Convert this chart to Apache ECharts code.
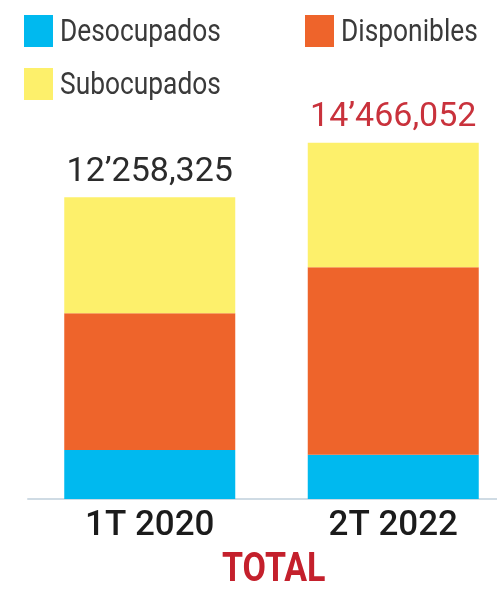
<!DOCTYPE html>
<html>
<head>
<meta charset="utf-8">
<title>Desocupados, disponibles y subocupados</title>
<script src="https://cdn.jsdelivr.net/npm/echarts@6/dist/echarts.min.js"></script>
<style>
  html, body { margin: 0; padding: 0; background: #fff; }
  #chart { width: 497px; height: 591px; }
</style>
</head>
<body>
<div id="chart"></div>
<script>
// datos
var categories = ['1T 2020', '2T 2022']
var seriesNames = ['Desocupados', 'Disponibles', 'Subocupados']
var desocupados = [1990000, 1800000]
var disponibles = [5550000, 7610000]
var subocupados = [4718325, 5056052]
var totals = [12258325, 14466052]

var colors = ['#00b9ef', '#ee642b', '#fdf06b']

// 12258325 -> 12'258,325
function formatTotal(v) {
  var s = String(v)
  var millions = s.slice(0, s.length - 6)
  var thousands = s.slice(s.length - 6, s.length - 3)
  var units = s.slice(s.length - 3)
  return millions + '\u2019' + thousands + ',' + units
}

// leyenda dibujada a mano: la fuente original es condensada
function legendItem(idx, x, y) {
  return {
    type: 'group',
    x: x,
    y: y,
    children: [
      { type: 'rect', shape: { x: 0, y: 0, width: 29, height: 32 }, style: { fill: colors[idx] } },
      {
        type: 'text',
        x: 36,
        y: 18,
        scaleX: 0.85,
        style: {
          text: seriesNames[idx],
          fontFamily: 'Roboto, sans-serif',
          fontSize: 31,
          fill: '#3a3a3a',
          verticalAlign: 'middle'
        }
      }
    ]
  }
}

var chart = echarts.init(document.getElementById('chart'))
var option = {
  animation: false,
  color: colors,
  grid: {
    left: 28,
    width: 487,
    top: 105,
    bottom: 92,
    outerBoundsMode: 'none'
  },
  xAxis: {
    type: 'category',
    data: categories,
    axisLine: { lineStyle: { color: '#cfdbe4', width: 2 } },
    axisTick: { show: false },
    axisLabel: {
      margin: 10,
      fontFamily: 'Roboto, sans-serif',
      fontSize: 35,
      fontWeight: 500,
      color: '#1b1b1b'
    }
  },
  yAxis: {
    type: 'value',
    min: 0,
    max: 16000000,
    show: false,
    splitLine: { show: false }
  },
  graphic: [
    legendItem(0, 24, 15),
    legendItem(1, 305, 15),
    legendItem(2, 24, 68),
    {
      type: 'text',
      x: 222,
      y: 551,
      scaleX: 0.85,
      style: {
        text: 'TOTAL',
        fontFamily: 'Roboto, sans-serif',
        fontSize: 40,
        fontWeight: 'bold',
        fill: '#c4202c'
      }
    }
  ],
  series: [
    {
      name: seriesNames[0],
      type: 'bar',
      stack: 'total',
      barWidth: 171,
      data: desocupados
    },
    {
      name: seriesNames[1],
      type: 'bar',
      stack: 'total',
      data: disponibles
    },
    {
      name: seriesNames[2],
      type: 'bar',
      stack: 'total',
      data: subocupados.map(function (v, i) {
        return {
          value: v,
          label: { color: i === 0 ? '#2b2b2b' : '#c9323c' }
        }
      }),
      label: {
        show: true,
        position: 'top',
        distance: 8,
        fontFamily: 'Roboto, sans-serif',
        fontSize: 34,
        formatter: function (p) {
          return formatTotal(totals[p.dataIndex])
        }
      }
    }
  ]
}
chart.setOption(option)
</script>
</body>
</html>
